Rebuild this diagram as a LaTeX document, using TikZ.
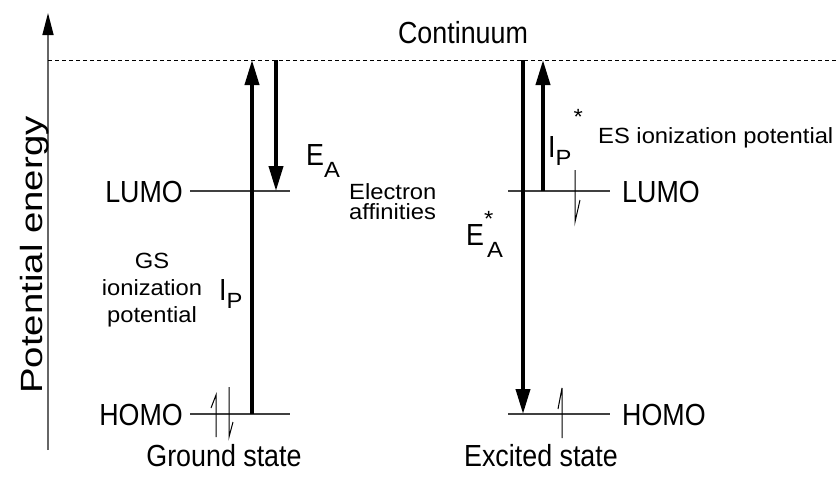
\documentclass[tikz,border=0pt]{standalone}
\usepackage{fontspec}
\setmainfont{Liberation Sans}
\newfontfamily\bigfam{Liberation Sans}[FakeStretch=0.88]
\newfontfamily\smlfam{Liberation Sans}[FakeStretch=1.08]
\newfontfamily\axfam{Liberation Sans}[FakeStretch=1.25]
\usetikzlibrary{arrows.meta,positioning}
\newcommand\bigfnt{\bigfam\fontsize{30.5}{33}\selectfont}
\newcommand\smlfnt{\smlfam\fontsize{22}{24}\selectfont}
\newcommand\subtxt[2]{\raisebox{-#1pt}{\smlfnt #2}}
\newcommand\suptxt[2]{\raisebox{#1pt}{\smlfnt #2}}
\tikzset{
  axisln/.style={draw=black!60,line width=1.5pt,-{Triangle[length=22pt,width=11pt,color=black]}},
  contln/.style={line width=0.8pt,dash pattern=on 4pt off 3pt},
  lvl/.style={draw=black!75,line width=1.3pt},
  trans/.style={line width=3.8pt,-{Triangle[length=25pt,width=14pt]}},
  spin/.style={line width=1pt},
  biglbl/.style={font=\bigfnt,inner sep=0pt},
  smllbl/.style={font=\smlfnt,inner sep=0pt,align=center}
}
\begin{document}
\begin{tikzpicture}[x=1pt,y=-1pt]
  \useasboundingbox (0,0) rectangle (838,477);
  % Energy axis
  \coordinate (ax0) at (48,450);
  \coordinate (ax1) at (48,13);
  \draw[axisln] (ax0) -- (ax1);
  \node[font=\axfam\fontsize{30.7}{33}\selectfont, inner sep=0pt, rotate=90, anchor=base] (penergy) at (42,255) {Potential energy};

  % Continuum
  \coordinate (contL) at (48,60);
  \coordinate (contR) at (836,60);
  \draw[contln] (contL) -- (contR);
  \node[biglbl, anchor=base] (cont) at (463,43) {Continuum};

  % Ground state levels
  \coordinate (gLumoL) at (190,191);
  \coordinate (gLumoR) at (290,191);
  \coordinate (gHomoL) at (190,414);
  \coordinate (gHomoR) at (290,414);
  \draw[lvl] (gLumoL) -- (gLumoR);
  \draw[lvl] (gHomoL) -- (gHomoR);
  \node[biglbl, anchor=base east] (gLumo) at (183,202) {LUMO};
  \node[biglbl, anchor=base east] (gHomo) at (183,425) {HOMO};
  \node[biglbl, anchor=base] (gstate) at (224,466) {Ground state};

  % Excited state levels
  \coordinate (eLumoL) at (508,191);
  \coordinate (eLumoR) at (610,191);
  \coordinate (eHomoL) at (508,414);
  \coordinate (eHomoR) at (610,414);
  \draw[lvl] (eLumoL) -- (eLumoR);
  \draw[lvl] (eHomoL) -- (eHomoR);
  \node[biglbl, anchor=base west] (eLumo) at (622,202) {LUMO};
  \node[biglbl, anchor=base west] (eHomo) at (622,425) {HOMO};
  \node[biglbl, anchor=base] (estate) at (541,466) {Excited state};

  % Electrons
  \draw[spin] (216,437) -- (216,395) -- (211,408);
  \draw[spin] (229,387) -- (229,437) -- (233,422);
  \draw[spin] (575,170) -- (575,222) -- (580,200);
  \draw[spin] (562,438) -- (562,388) -- (558,409);

  % Transitions
  \coordinate (ipB) at (252,414);  \coordinate (ipT) at (252,60);
  \coordinate (eaT) at (276,60);   \coordinate (eaB) at (276,191);
  \coordinate (easT) at (523,60);  \coordinate (easB) at (523,414);
  \coordinate (ipsB) at (543,191); \coordinate (ipsT) at (543,60);
  \draw[trans] (ipB) -- (ipT);
  \draw[trans] (eaT) -- (eaB);
  \draw[trans] (easT) -- (easB);
  \draw[trans] (ipsB) -- (ipsT);

  % Labels
  \node[biglbl, anchor=base west] (ipLbl) at (219,300) {I\subtxt{8}{P}};
  \node[smllbl, font=\smlfam\fontsize{22}{27}\selectfont, anchor=base] (gsLbl) at (152,322) {GS\\ionization\\potential};
  \node[biglbl, anchor=base west] (eaLbl) at (306,165) {E\subtxt{12}{A}};
  \node[smllbl, font=\smlfam\fontsize{22}{20}\selectfont, align=left, anchor=base west] (affLbl) at (349,219) {Electron\\affinities};
  \node[biglbl, anchor=base west] (easLbl) at (466,245) {E\rlap{\suptxt{19}{*}}\kern3pt\subtxt{12}{A}};
  \node[biglbl, anchor=base west] (ipsLbl) at (548,157) {I\subtxt{8}{P}\kern2pt\suptxt{33}{*}};
  \node[smllbl, anchor=base west] (esLbl) at (598,143) {ES ionization potential};
\end{tikzpicture}
\end{document}
